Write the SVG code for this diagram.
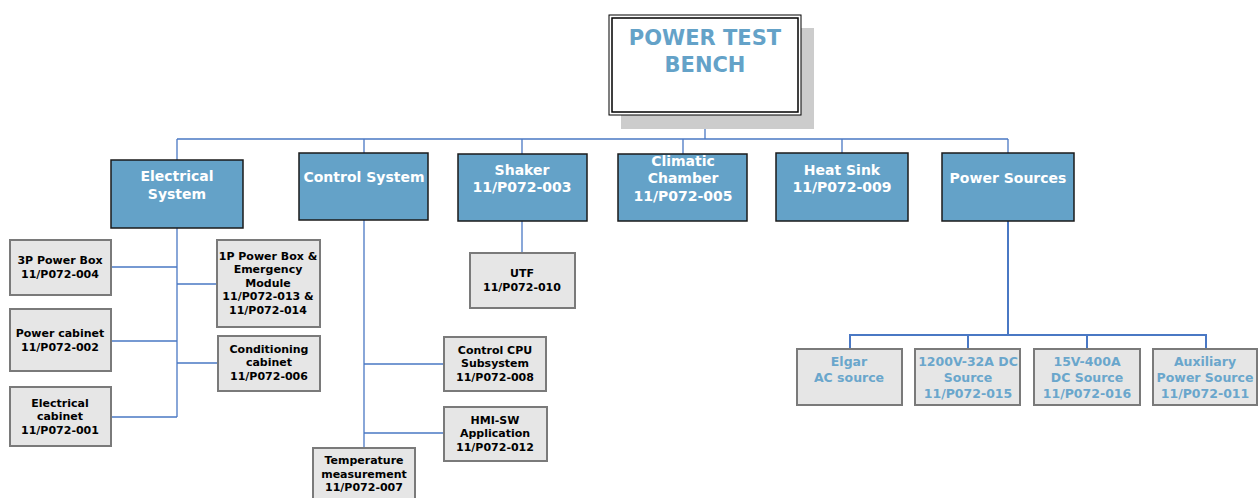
<svg xmlns="http://www.w3.org/2000/svg" width="1258" height="498" viewBox="0 0 1258 498">
<style>
text{font-family:"DejaVu Sans",Verdana,sans-serif;font-weight:bold;text-anchor:middle}
.l1 rect{fill:#64a2c8;stroke:#1a1a1a;stroke-width:1.5}
.l1 text{fill:#fff;font-size:14px}
.l2 rect{fill:#e6e6e6;stroke:#7a7a7a;stroke-width:2}
.l2 text{fill:#000;font-size:11px}
.ps text{fill:#6aa6cc;font-size:12.5px}
.c{stroke:#4a78c4;stroke-width:1.3;fill:none}
.c2{stroke:#4a78c4;stroke-width:2;fill:none}
</style>
<rect width="1258" height="498" fill="#fff"/>
<g id="connectors">
<path class="c" d="M705 115V139M177 139H1008M177 139V160M364 139V153M522 139V154M683 139V154M842 139V153M1008 139V153"/>
<path class="c" d="M177 228V417M111 267H177M177 284H217M111 341H177M177 363H218M111 417H177"/>
<path class="c" d="M364 220V448M364 364H444M364 433H444"/>
<path class="c" d="M522 221V253"/>
<path class="c2" d="M1008 221V335M850 349V335H1206V349M968 335V349M1087 335V349"/>
</g>
<g id="root">
<rect x="621" y="28" width="193" height="101" fill="#cccccc"/>
<rect x="609" y="15" width="192" height="100" fill="#fff" stroke="#000" stroke-width="1"/>
<rect x="612" y="18" width="186" height="94" fill="#fff" stroke="#000" stroke-width="1.5"/>
<text x="705" y="45" fill="#64a2c8" font-size="21">POWER TEST</text>
<text x="705" y="72" fill="#64a2c8" font-size="21">BENCH</text>
</g>
<g id="electrical" class="l1"><rect x="111" y="160" width="132" height="68"/><text x="177" y="181">Electrical</text><text x="177" y="199">System</text></g>
<g id="control" class="l1"><rect x="299" y="153" width="129" height="67"/><text x="364" y="182">Control System</text></g>
<g id="shaker" class="l1"><rect x="458" y="154" width="129" height="67"/><text x="522" y="175">Shaker</text><text x="522" y="192">11/P072-003</text></g>
<g id="climatic" class="l1"><rect x="618" y="154" width="129" height="67"/><text x="683" y="166">Climatic</text><text x="683" y="183">Chamber</text><text x="683" y="201">11/P072-005</text></g>
<g id="heatsink" class="l1"><rect x="776" y="153" width="132" height="68"/><text x="842" y="175">Heat Sink</text><text x="842" y="192">11/P072-009</text></g>
<g id="powersources" class="l1"><rect x="942" y="153" width="132" height="68"/><text x="1008" y="183">Power Sources</text></g>
<g id="p3box" class="l2"><rect x="10" y="240" width="101" height="55"/><text x="60" y="264">3P Power Box</text><text x="60" y="278">11/P072-004</text></g>
<g id="powercab" class="l2"><rect x="10" y="309" width="101" height="62"/><text x="60" y="337">Power cabinet</text><text x="60" y="351">11/P072-002</text></g>
<g id="eleccab" class="l2"><rect x="10" y="387" width="101" height="59"/><text x="60" y="407">Electrical</text><text x="60" y="420">cabinet</text><text x="60" y="434">11/P072-001</text></g>
<g id="p1box" class="l2"><rect x="217" y="240" width="103" height="87"/><text x="268" y="260">1P Power Box &amp;</text><text x="268" y="273">Emergency</text><text x="268" y="287">Module</text><text x="268" y="300">11/P072-013 &amp;</text><text x="268" y="314">11/P072-014</text></g>
<g id="condcab" class="l2"><rect x="218" y="336" width="102" height="55"/><text x="269" y="353">Conditioning</text><text x="269" y="366">cabinet</text><text x="269" y="380">11/P072-006</text></g>
<g id="cpu" class="l2"><rect x="444" y="337" width="102" height="54"/><text x="495" y="354">Control CPU</text><text x="495" y="367">Subsystem</text><text x="495" y="381">11/P072-008</text></g>
<g id="hmi" class="l2"><rect x="444" y="407" width="103" height="54"/><text x="495" y="424">HMI-SW</text><text x="495" y="437">Application</text><text x="495" y="451">11/P072-012</text></g>
<g id="temp" class="l2"><rect x="313" y="448" width="102" height="52"/><text x="364" y="464">Temperature</text><text x="364" y="478">measurement</text><text x="364" y="491">11/P072-007</text></g>
<g id="utf" class="l2"><rect x="470" y="253" width="105" height="55"/><text x="522" y="277">UTF</text><text x="522" y="291">11/P072-010</text></g>
<g id="elgar" class="l2 ps"><rect x="797" y="349" width="105" height="56"/><text x="849" y="366">Elgar</text><text x="849" y="382">AC source</text></g>
<g id="dc1200" class="l2 ps"><rect x="915" y="349" width="105" height="56"/><text x="968" y="366">1200V-32A DC</text><text x="968" y="382">Source</text><text x="968" y="398">11/P072-015</text></g>
<g id="dc15" class="l2 ps"><rect x="1034" y="349" width="106" height="56"/><text x="1087" y="366">15V-400A</text><text x="1087" y="382">DC Source</text><text x="1087" y="398">11/P072-016</text></g>
<g id="aux" class="l2 ps"><rect x="1153" y="349" width="104" height="56"/><text x="1205" y="366">Auxiliary</text><text x="1205" y="382">Power Source</text><text x="1205" y="398">11/P072-011</text></g>
</svg>
